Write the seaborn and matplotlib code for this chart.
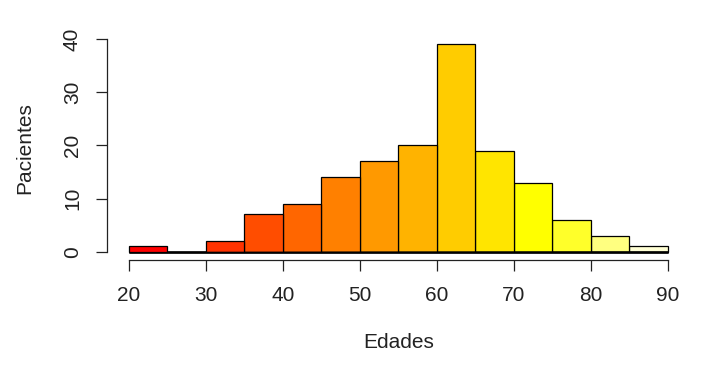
import colorsys
import matplotlib
matplotlib.use('Agg')
from matplotlib import pyplot as plt
import numpy as np
import pandas as pd
import seaborn as sns

# %% Data
bin_edges = [20, 25, 30, 35, 40, 45, 50, 55, 60, 65, 70, 75, 80, 85, 90]
counts = [1, 0, 2, 7, 9, 14, 17, 20, 39, 19, 13, 6, 3, 1]
x_ticks = [20, 30, 40, 50, 60, 70, 80, 90]
y_ticks = [0, 10, 20, 30, 40]
x_label = 'Edades'
y_label = 'Pacientes'


# %% R's heat.colors(n)
def heat_colors(n):
    j = n // 4
    i = n - j
    cols = [colorsys.hsv_to_rgb(h, 1, 1) for h in np.linspace(0, 1 / 6, i)]
    if j > 0:
        sats = np.linspace(1 - 1 / (2 * j), 1 / (2 * j), j)
        cols += [colorsys.hsv_to_rgb(1 / 6, s, 1) for s in sats]
    return cols


centers = [(a + b) / 2 for a, b in zip(bin_edges[:-1], bin_edges[1:])]
df = pd.DataFrame({'edad': centers, 'n': counts, 'bin': [str(i) for i in range(len(counts))]})
palette = dict(zip(df['bin'], heat_colors(len(counts))))

# %% Plot
sns.set_style('white')
plt.rcParams['font.family'] = ['Liberation Sans', 'DejaVu Sans']

fig = plt.figure(figsize=(7.07, 3.66), dpi=100)
ax = fig.add_axes([107 / 707, 1 - 260 / 366, (689.6 - 107) / 707, (260 - 36) / 366])

sns.histplot(
    data=df, x='edad', weights='n', bins=bin_edges, hue='bin', palette=palette,
    hue_order=list(df['bin']), multiple='layer', alpha=1, legend=False,
    edgecolor='black', linewidth=0.9, ax=ax,
)

ax.set_xlim(17.2, 92.8)
ax.set_ylim(-1.56, 40.56)
ax.set_xticks(x_ticks)
ax.set_yticks(y_ticks)
ax.set_yticklabels([str(t) for t in y_ticks], rotation=90, va='center')

for side in ['top', 'right']:
    ax.spines[side].set_visible(False)
ax.spines['left'].set_bounds(0, 40)
ax.spines['bottom'].set_bounds(20, 90)
for side in ['left', 'bottom']:
    ax.spines[side].set_color('#222222')
    ax.spines[side].set_linewidth(0.9)
ax.tick_params(axis='both', direction='out', length=8, width=0.9, color='#222222',
               labelsize=15, colors='#222222', left=True, bottom=True)
ax.tick_params(axis='x', pad=11)
ax.tick_params(axis='y', pad=10)

ax.set_xlabel(x_label, fontsize=15, color='#222222')
ax.set_ylabel(y_label, fontsize=15, color='#222222')
ax.xaxis.label.set_va('center')
ax.yaxis.label.set_va('center')
ax.xaxis.set_label_coords(0.5, (260 - 342) / 224)
ax.yaxis.set_label_coords((25 - 107) / 582.6, 0.5)

fig.savefig('out.png', dpi=100)
